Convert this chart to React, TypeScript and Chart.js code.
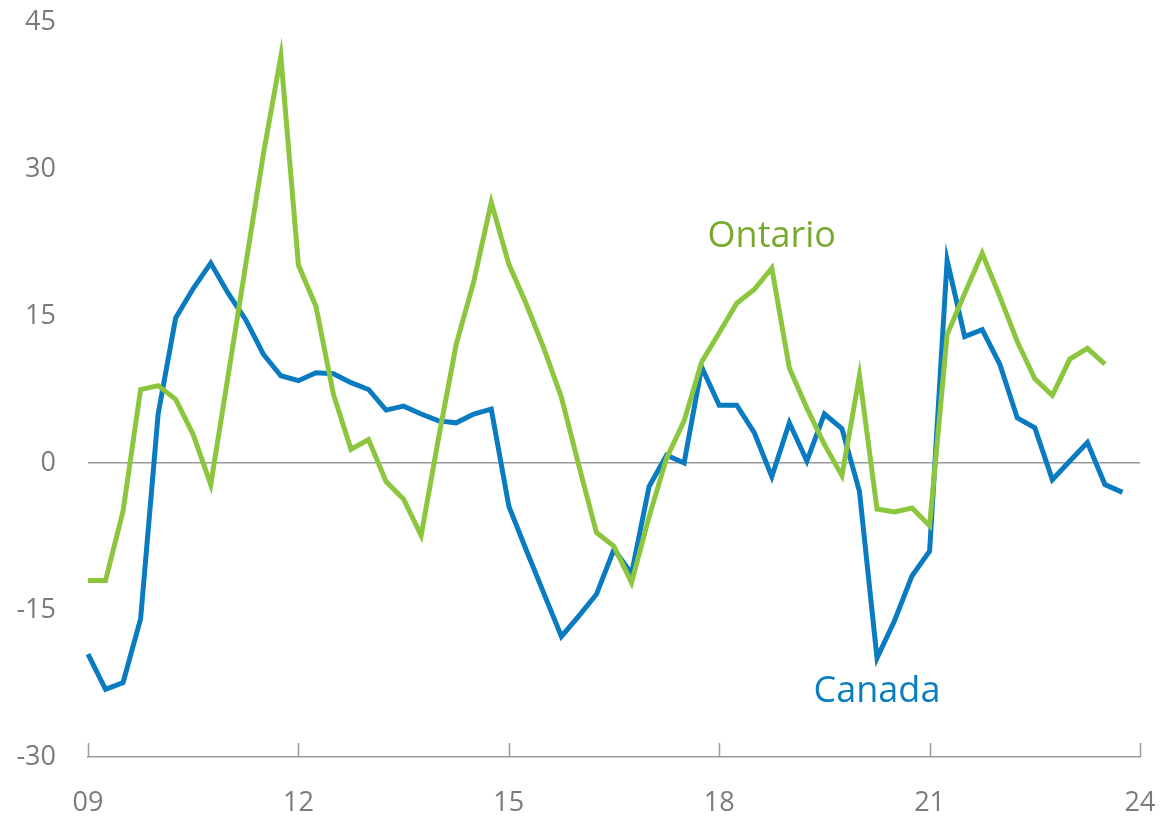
import React, { useEffect, useRef } from "react";
import { Chart, registerables } from "chart.js";

Chart.register(...registerables);

// Quarterly categories 2009Q1 .. 2024Q1
const years = [2009, 2010, 2011, 2012, 2013, 2014, 2015, 2016, 2017, 2018, 2019, 2020, 2021, 2022, 2023, 2024];
const quarters = ["Q1", "Q2", "Q3", "Q4"];
const categories: string[] = [];
years.forEach((y) => quarters.forEach((q) => { if (y < 2024 || q === "Q1") categories.push(`${y}${q}`); }));

const tickYears = [2009, 2012, 2015, 2018, 2021, 2024];

const ontario = [
  -12.0, -12.0, -4.9, 7.5, 7.9, 6.5, 2.9, -2.2,
  9.0, 20.3, 31.5, 41.5, 20.2, 16.0, 7.0, 1.4,
  2.4, -1.9, -3.7, -7.4, 2.6, 12.1, 18.5, 26.6,
  20.3, 16.2, 11.7, 6.7, -0.3, -7.1, -8.5, -12.2,
  -5.5, 0.5, 4.3, 10.3, 13.3, 16.3, 17.7, 19.9,
  9.7, 5.6, 1.9, -1.3, 8.9, -4.7, -5.0, -4.6,
  -6.4, 13.1, 17.3, 21.4, 17.0, 12.4, 8.6, 6.9,
  10.6, 11.7, 10.1,
];

const canada = [
  -19.5, -23.1, -22.4, -15.9, 5.0, 14.8, 17.8, 20.4,
  17.3, 14.6, 11.1, 8.9, 8.4, 9.2, 9.1, 8.2,
  7.5, 5.4, 5.8, 5.0, 4.3, 4.1, 5.0, 5.5,
  -4.4, -8.9, -13.3, -17.7, -15.6, -13.4, -8.8, -11.3,
  -2.4, 0.8, 0.0, 9.8, 5.9, 5.9, 3.1, -1.4,
  4.1, 0.2, 5.0, 3.5, -2.9, -19.9, -16.1, -11.5,
  -9.0, 20.7, 12.9, 13.6, 10.1, 4.6, 3.6, -1.7,
  0.2, 2.1, -2.2, -3.0,
];

const yTicks = [-30, -15, 0, 15, 30, 45];

const seriesLabels = [
  { text: "Ontario", x: 39, y: 23.1, color: "#76a92c" },
  { text: "Canada", x: 45, y: -23.3, color: "#0a7cc1" },
];

const GREEN = "#8cc63f";
const BLUE = "#0a7bc0";
const GRAY = "#7b7b7b";
const FONT = "'Open Sans', 'Noto Sans', sans-serif";

const isMajor = (label: string) => label.endsWith("Q1") && tickYears.includes(Number(label.slice(0, 4)));

const extrasPlugin = {
  id: "extras",
  afterDraw(chart: any) {
    const { ctx, chartArea, scales } = chart;
    const xs = scales.x;
    const ys = scales.y;
    ctx.save();
    // upward tick marks at labelled years
    ctx.strokeStyle = "#9a9a9a";
    ctx.lineWidth = 1.5;
    categories.forEach((c, i) => {
      if (!isMajor(c)) return;
      const px = Math.round(xs.getPixelForValue(i)) + 0.5;
      ctx.beginPath();
      ctx.moveTo(px, chartArea.bottom);
      ctx.lineTo(px, chartArea.bottom - 14);
      ctx.stroke();
    });
    // series labels
    ctx.font = `36px ${FONT}`;
    ctx.textAlign = "center";
    ctx.textBaseline = "middle";
    seriesLabels.forEach((l) => {
      ctx.fillStyle = l.color;
      ctx.fillText(l.text, xs.getPixelForValue(l.x), ys.getPixelForValue(l.y));
    });
    ctx.restore();
  },
};

export default function App() {
  const ref = useRef<HTMLCanvasElement | null>(null);

  useEffect(() => {
    if (!ref.current) return;
    const chart = new Chart(ref.current, {
      type: "line",
      data: {
        labels: categories,
        datasets: [
          {
            label: "Ontario",
            data: ontario,
            borderColor: GREEN,
            borderWidth: 5,
            pointRadius: 0,
            tension: 0,
            fill: false,
          },
          {
            label: "Canada",
            data: canada,
            borderColor: BLUE,
            borderWidth: 5,
            pointRadius: 0,
            tension: 0,
            fill: false,
          },
        ],
      },
      options: {
        animation: false,
        responsive: true,
        maintainAspectRatio: false,
        layout: { padding: { left: 0, right: 23, top: 22, bottom: 0 } },
        plugins: {
          legend: { display: false },
          tooltip: { enabled: false },
          title: { display: false },
        },
        scales: {
          x: {
            type: "category",
            offset: false,
            grid: { display: false, drawTicks: false },
            border: { display: true, color: "#9a9a9a", width: 1.5 },
            ticks: {
              autoSkip: false,
              maxRotation: 0,
              minRotation: 0,
              padding: 30,
              color: GRAY,
              font: { family: FONT, size: 27 },
              callback: (_v: any, i: number) => (isMajor(categories[i]) ? categories[i].slice(2, 4) : ""),
            },
            afterFit: (scale: any) => {
              scale.height = 62;
              scale.paddingLeft = 0;
              scale.paddingRight = 0;
            },
          },
          y: {
            min: -30,
            max: 45,
            afterBuildTicks: (scale: any) => {
              scale.ticks = yTicks.map((v) => ({ value: v }));
            },
            grid: {
              drawTicks: false,
              lineWidth: 1.5,
              color: (c: any) => (c.tick && c.tick.value === 0 ? "#9a9a9a" : "rgba(0,0,0,0)"),
            },
            border: { display: false },
            ticks: {
              padding: 32,
              color: GRAY,
              font: { family: FONT, size: 27 },
            },
            afterFit: (scale: any) => {
              scale.width = 88;
              scale.paddingTop = 0;
              scale.paddingBottom = 0;
            },
          },
        },
      },
      plugins: [extrasPlugin],
    });
    return () => chart.destroy();
  }, []);

  return (
    <div style={{ position: "absolute", left: 0, top: 0, width: 1163, height: 819, background: "#fff" }}>
      <canvas ref={ref} />
    </div>
  );
}
